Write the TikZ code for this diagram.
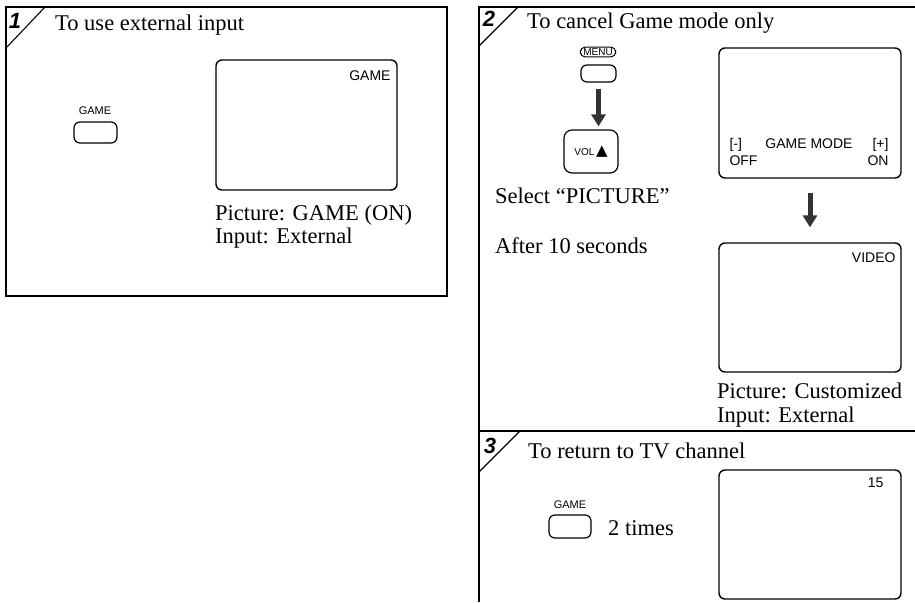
\documentclass[tikz,border=0pt]{standalone}
\usepackage{fontspec}
\setmainfont{Liberation Serif}
\setsansfont{Liberation Sans}
\newfontfamily\symfont{DejaVu Sans}
\usetikzlibrary{arrows.meta}
\usetikzlibrary{calc}

\tikzset{
 panel/.style={line width=2.2pt},
 corner/.style={line width=1.1pt},
 screen/.style={draw, line width=1.4pt, rounded corners=6pt, inner sep=0},
 btn/.style={draw, line width=1.2pt, rounded corners=6pt, inner sep=0},
 caption/.style={anchor=base west, inner sep=0, font=\fontsize{22.5}{26}\selectfont},
 osd/.style={inner sep=0, font=\sffamily\fontsize{14}{16}\selectfont},
 keylabel/.style={inner sep=0, anchor=base, font=\sffamily\fontsize{11}{13}\selectfont},
 stepno/.style={inner sep=0, font=\sffamily\bfseries\itshape\fontsize{22}{24}\selectfont},
 bigarrow/.style={line width=5pt, black!80, -{Triangle[width=14pt,length=12pt]}}
}

\begin{document}
\begin{tikzpicture}[x=1pt,y=-1pt]
\useasboundingbox (0,0) rectangle (915,602);

% panel 1
\draw[panel] (6,7) rectangle (447,296);
\draw[corner] (7,47) -- (45,7);
\node[stepno] (no1) at (15,21) {1};
\node[caption] (title1) at (55,31) {To use external input};
\node[keylabel] (game1lbl) at (95,114) {GAME};
\node[btn, minimum width=43pt, minimum height=21pt] (game1) at (95.5,132.5) {};
\node[screen, minimum width=181pt, minimum height=130pt] (scr1) at (306.5,125) {};
\node[osd, anchor=base east] (scr1txt) at ([shift={(-7,21)}]scr1.north east) {GAME};
\node[caption] (cap1a) at (215,220) {Picture: GAME (ON)};
\node[caption] (cap1b) at (215,243) {Input: External};

% panels 2 and 3
\draw[panel] (915,7) -- (479,7) -- (479,602);
\draw[panel] (479,431) -- (915,431);

% panel 2
\draw[corner] (479,46) -- (518,7);
\node[stepno] (no2) at (489,19) {2};
\node[caption] (title2) at (527,29) {To cancel Game mode only};
\node[draw, line width=1pt, rounded corners=5pt, inner xsep=3pt, inner ysep=1.5pt,
 font=\sffamily\fontsize{10}{11}\selectfont] (menulbl) at (598,52) {MENU};
\node[btn, minimum width=35pt, minimum height=17pt] (menu) at (598.5,73.5) {};
\node[btn, minimum width=54pt, minimum height=43pt, rounded corners=8pt,
 font=\sffamily\fontsize{10}{11}\selectfont] (vol) at (591,151.5)
 {VOL\,{\symfont\fontsize{15}{15}\selectfont ▲}};
\draw[bigarrow, shorten <=6pt, shorten >=3pt] (menu.south) -- (menu.south |- vol.north);
\node[caption] (cap2sel) at (495,203) {Select “PICTURE”};
\node[caption] (cap2wait) at (495,253) {After 10 seconds};

\node[screen, minimum width=182pt, minimum height=130pt] (scr2a) at (810,113) {};
\node[osd, anchor=base west] (minus) at ([shift={(11,-30)}]scr2a.south west) {[-]};
\node[osd, anchor=base west] (off) at ([shift={(11,-13)}]scr2a.south west) {OFF};
\node[osd, anchor=base] (mode) at ([shift={(-1,-30)}]scr2a.south) {GAME MODE};
\node[osd, anchor=base east] (plus) at ([shift={(-13,-30)}]scr2a.south east) {[+]};
\node[osd, anchor=base east] (on) at ([shift={(-13,-13)}]scr2a.south east) {ON};

\node[screen, minimum width=182pt, minimum height=129pt] (scr2b) at (810,307.5) {};
\node[osd, anchor=base east] (video) at ([shift={(-6,20)}]scr2b.north east) {VIDEO};
\draw[bigarrow, shorten <=14pt, shorten >=15pt] (scr2a.south) -- (scr2b.north);
\node[caption] (cap2a) at (717,398) {Picture: Customized};
\node[caption] (cap2b) at (717,422) {Input: External};

% panel 3
\draw[corner] (479,472) -- (520,431);
\node[stepno] (no3) at (490,446) {3};
\node[caption] (title3) at (528,458) {To return to TV channel};
\node[keylabel] (game3lbl) at (570,508) {GAME};
\node[btn, minimum width=42pt, minimum height=23pt] (game3) at (570,526.5) {};
\node[caption] (times) at (608,535) {2 times};
\node[screen, minimum width=182pt, minimum height=129pt] (scr3) at (810,534.5) {};
\node[osd, anchor=base east] (chan) at ([shift={(-18,18)}]scr3.north east) {15};
\end{tikzpicture}
\end{document}
